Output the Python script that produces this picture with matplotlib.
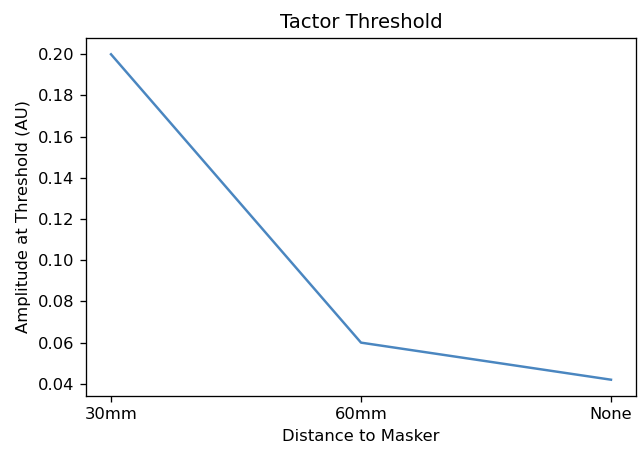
import matplotlib
matplotlib.use("Agg")
import matplotlib.pyplot as plt

# data
distances = ["30mm", "60mm", "None"]
amplitudes = [0.200, 0.060, 0.042]

# reference looks like a default figure rendered at a slightly higher dpi
dpi = 118
fig, ax = plt.subplots(figsize=(639 / dpi, 451 / dpi), dpi=dpi)
fig.subplots_adjust(left=0.1346, right=0.9953, bottom=0.122, top=0.9157)

ax.plot(distances, amplitudes, color="#4a86c0", linewidth=1.5)
ax.set_yticks([0.04, 0.06, 0.08, 0.10, 0.12, 0.14, 0.16, 0.18, 0.20])
ax.set_xlabel("Distance to Masker")
ax.set_ylabel("Amplitude at Threshold (AU)")
ax.set_title("Tactor Threshold")

plt.savefig("out.png", dpi=dpi)
